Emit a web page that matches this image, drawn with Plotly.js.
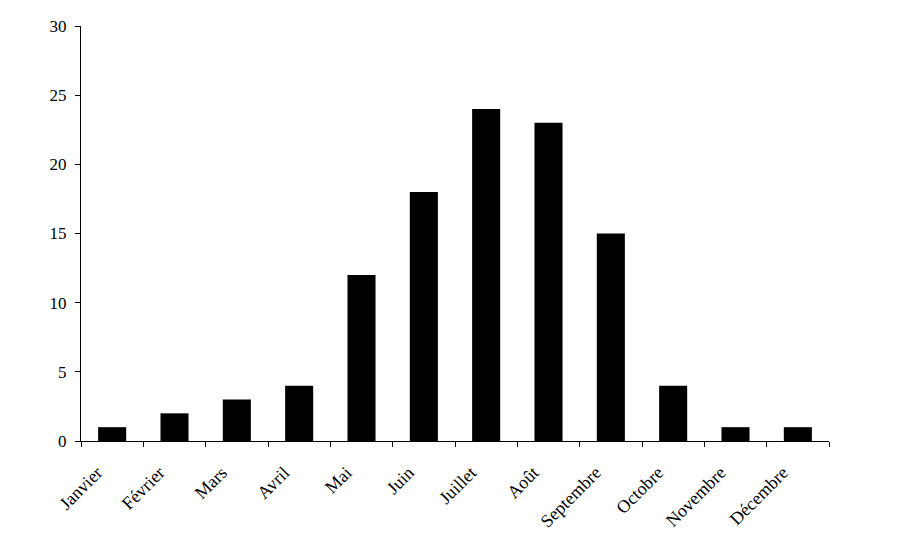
<!DOCTYPE html>
<html><head><meta charset="utf-8">
<script src="https://cdn.plot.ly/plotly-3.0.1.min.js"></script>
<style>html,body{margin:0;padding:0;background:#fff;}</style>
</head><body>
<div id="chart" style="width:904px;height:538px;"></div>
<script>
var months = ["Janvier","Février","Mars","Avril","Mai","Juin","Juillet","Août","Septembre","Octobre","Novembre","Décembre"];
var counts = [1,2,3,4,12,18,24,23,15,4,1,1];
var yTicks = [0,5,10,15,20,25,30];

var trace = {type:'bar', x:months, y:counts, marker:{color:'#000', line:{width:0}}, hoverinfo:'none'};
var layout = {
  width:904, height:538,
  margin:{l:81, r:75, t:26, b:97},
  paper_bgcolor:'#fff', plot_bgcolor:'#fff',
  bargap:0.55,
  showlegend:false,
  font:{family:'"Liberation Serif", "Times New Roman", serif', size:16, color:'#000'},
  xaxis:{showline:true, linecolor:'#000', linewidth:1, ticks:'outside', tickson:'boundaries', ticklen:5, tickcolor:'#000', tickangle:-45, showgrid:false, zeroline:false, fixedrange:true,
         tickfont:{size:18}, ticklabelstandoff:13, ticklabelshift:-15},
  yaxis:{range:[0,30], tickvals:yTicks, ticktext:yTicks.map(String), showline:true, linecolor:'#000', linewidth:1, ticks:'outside', ticklen:5, tickcolor:'#000', showgrid:false, zeroline:false, fixedrange:true,
         tickfont:{size:17}, ticklabelstandoff:5}
};
Plotly.newPlot('chart',[trace],layout,{displayModeBar:false, staticPlot:true});
</script>
</body></html>
